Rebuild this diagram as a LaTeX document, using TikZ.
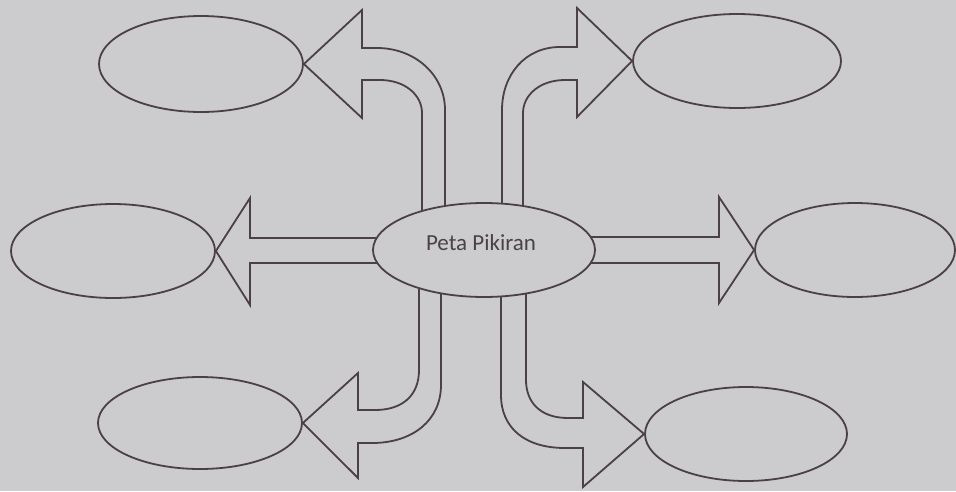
\documentclass[tikz,border=0pt]{standalone}
\usepackage{fontspec}
\setmainfont{Carlito}
\usetikzlibrary{shapes.geometric}
\definecolor{paper}{HTML}{CCCBCD}
\definecolor{ink}{HTML}{4B4045}
\definecolor{txt}{HTML}{4A4247}
\begin{document}
\begin{tikzpicture}[x=1pt,y=-1pt,
  bubble/.style={ellipse,draw=ink,line width=1.8pt,inner sep=0pt},
  blockarrow/.style={draw=ink,fill=paper,line width=1.8pt,line join=miter}]
\fill[paper] (0,0) rectangle (956,491);
\useasboundingbox (0,0) rectangle (956,491);
% outer ideas
\node[bubble,minimum width=204pt,minimum height=96pt] (tl) at (201,64) {};
\node[bubble,minimum width=208pt,minimum height=94pt] (tr) at (737,61) {};
\node[bubble,minimum width=204pt,minimum height=94pt] (ml) at (113,251) {};
\node[bubble,minimum width=200pt,minimum height=94pt] (mr) at (855,250) {};
\node[bubble,minimum width=204pt,minimum height=92pt] (bl) at (200,423) {};
\node[bubble,minimum width=202pt,minimum height=94pt] (br) at (746,434) {};
% block arrows
\draw[blockarrow] (tl.east) -- (362,10) -- (362,48) -- (377,48)
  .. controls (415,48) and (445,75) .. (445,110) -- (445,230) -- (422,230) -- (422,113)
  .. controls (422,95) and (405,80) .. (380,80) -- (362,80) -- (362,118) -- cycle;
\draw[blockarrow] (tr.west) -- (577,117) -- (577,80) -- (565,80)
  .. controls (540,80) and (523,95) .. (523,113) -- (523,230) -- (502,230) -- (502,110)
  .. controls (502,75) and (525,47) .. (560,47) -- (577,47) -- (577,8) -- cycle;
\draw[blockarrow] (ml.east) -- (250,198) -- (250,238) -- (400,238) -- (400,263)
  -- (250,263) -- (250,305) -- cycle;
\draw[blockarrow] (mr.west) -- (719,197) -- (719,237) -- (570,237) -- (570,263)
  -- (719,263) -- (719,303) -- cycle;
\draw[blockarrow] (bl.east) -- (358,373) -- (358,410) -- (375,410)
  .. controls (403,410) and (419,395) .. (419,370) -- (419,270) -- (441,270) -- (441,385)
  .. controls (441,420) and (413,443) .. (372,443) -- (358,443) -- (358,478) -- cycle;
\draw[blockarrow] (br.west) -- (583,382) -- (583,418) -- (568,418)
  .. controls (540,418) and (526,402) .. (526,380) -- (526,270) -- (501,270) -- (501,395)
  .. controls (501,428) and (525,448) .. (565,448) -- (583,448) -- (583,487) -- cycle;
% central idea
\node[bubble,fill=paper,minimum width=222pt,minimum height=94pt] (c) at (484,250) {};
\node[text=txt,font=\fontsize{23}{27}\selectfont,inner sep=0pt] (ctext) at (481,243) {Peta Pikiran};
\end{tikzpicture}
\end{document}
